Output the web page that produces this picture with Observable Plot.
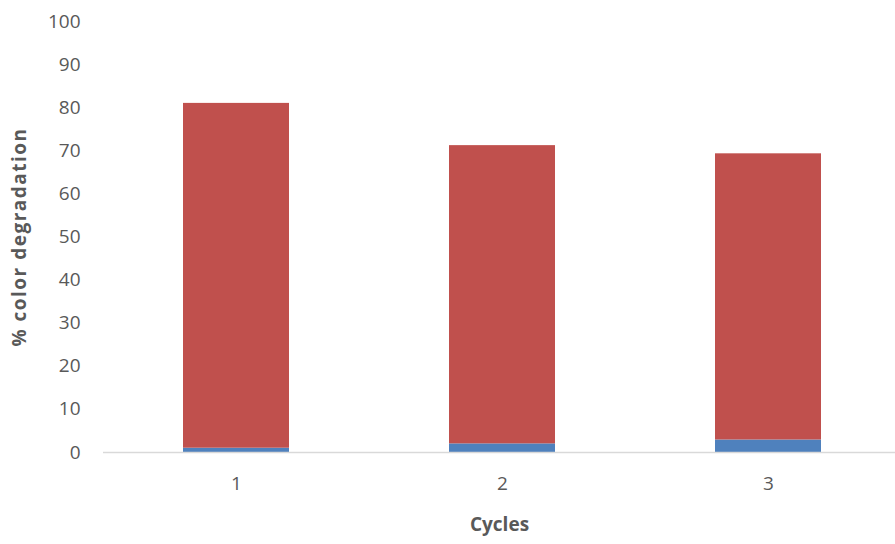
<!DOCTYPE html>
<html>
<head>
<meta charset="utf-8">
<script src="https://cdn.jsdelivr.net/npm/d3@7"></script>
<script src="https://cdn.jsdelivr.net/npm/@observablehq/plot@0.6"></script>
<style>
  html, body { margin: 0; padding: 0; background: #fff; }
  #chart svg { display: block; }
</style>
</head>
<body>
<div id="chart"></div>
<script>
// Degradation per cycle, split into a lower (blue) and upper (red) stacked part
const cycles = [1, 2, 3];
const lowerValues = [1.0, 2.0, 2.9];
const upperValues = [80.0, 69.2, 66.4];
const yTicks = [0, 10, 20, 30, 40, 50, 60, 70, 80, 90, 100];
const seriesNames = ["lower", "upper"];
const seriesColors = ["#4F81BD", "#C0504D"];

const rows = [];
cycles.forEach((c, i) => {
  rows.push({cycle: c, series: "lower", value: lowerValues[i]});
  rows.push({cycle: c, series: "upper", value: upperValues[i]});
});

const textColor = "#595959";

const chart = Plot.plot({
  width: 895,
  height: 544,
  marginLeft: 103,
  marginRight: 0,
  marginTop: 21,
  marginBottom: 92,
  style: {fontFamily: "'Open Sans', sans-serif", fontSize: "18px", color: textColor, background: "#fff"},
  x: {type: "band", domain: cycles, range: [103, 902], paddingInner: 0.6, paddingOuter: 0.3, align: 0.5},
  y: {domain: [0, 100], range: [452, 21]},
  color: {domain: seriesNames, range: seriesColors},
  marks: [
    Plot.barY(rows, {x: "cycle", y: "value", fill: "series", order: seriesNames, inset: 0}),
    Plot.ruleY([0], {stroke: "#d9d9d9", strokeWidth: 1.5}),
    Plot.axisY({
      ticks: yTicks, tickSize: 0, tickPadding: 23, fill: textColor,
      label: "% color degradation", labelAnchor: "center", labelArrow: "none", labelOffset: 91,
      fontSize: 19
    }),
    Plot.axisX({
      tickSize: 0, tickPadding: 24, fill: textColor,
      label: "Cycles", labelAnchor: "center", labelArrow: "none", labelOffset: 78,
      fontSize: 19
    })
  ]
});

// Axis titles are bold; the vertical one is slightly spaced out
d3.select(chart).selectAll("g[aria-label='x-axis label'] text")
  .attr("font-weight", "bold");
d3.select(chart).selectAll("g[aria-label='y-axis label'] text")
  .attr("font-weight", "bold")
  .style("letter-spacing", "1.5px");

document.getElementById("chart").appendChild(chart);
</script>
</body>
</html>
